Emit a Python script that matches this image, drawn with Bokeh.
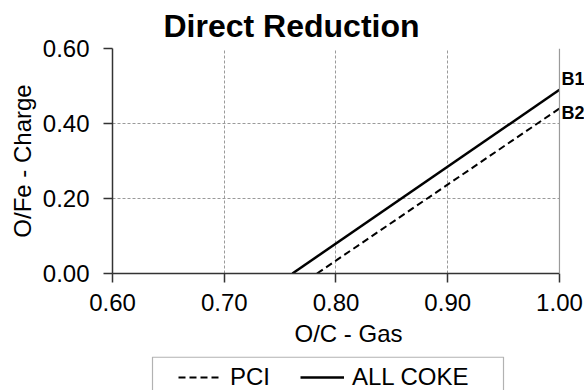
from bokeh.plotting import figure
from bokeh.layouts import column
from bokeh.models import (Range1d, FixedTicker, NumeralTickFormatter, Legend, LegendItem,
                          Span, Label, BoxAnnotation)
from bokeh.embed import file_html
from bokeh.resources import INLINE

# Data
title_text = "Direct Reduction"
x_label = "O/C - Gas"
y_label = "O/Fe - Charge"
x_ticks = [0.60, 0.70, 0.80, 0.90, 1.00]
y_ticks = [0.00, 0.20, 0.40, 0.60]
pci_x = [0.783, 1.00]
pci_y = [0.00, 0.44]
coke_x = [0.761, 1.00]
coke_y = [0.00, 0.49]
series_names = ["PCI", "ALL COKE"]
end_labels = ["B1", "B2"]

FONT = "Liberation Sans"
X_END_PAD = 0.0224  # extra room right of the axis for the end labels
W, H_MAIN, H_LEG = 584, 356, 34
LEFT = 112

p = figure(width=W, height=H_MAIN, output_backend="svg", toolbar_location=None,
           x_range=Range1d(x_ticks[0], x_ticks[-1] + X_END_PAD),
           y_range=Range1d(y_ticks[0], y_ticks[-1]),
           min_border_left=LEFT, min_border_right=0, min_border_top=48,
           min_border_bottom=83)
p.outline_line_color = None
p.background_fill_color = "white"
p.border_fill_color = "white"

p.title.text = title_text
p.title.text_font = FONT
p.title.text_font_size = "32px"
p.title.text_font_style = "bold"
p.title.text_color = "black"
p.title.align = "left"
p.title.offset = 51

for ax in (p.xaxis[0], p.yaxis[0]):
    ax.axis_line_color = "#333333"
    ax.axis_line_width = 1.5
    ax.major_tick_line_color = "#333333"
    ax.major_tick_line_width = 1.5
    ax.major_tick_in = 0
    ax.major_tick_out = 9
    ax.minor_tick_line_color = None
    ax.major_label_text_font = FONT
    ax.major_label_text_font_size = "24px"
    ax.major_label_text_color = "black"
    ax.axis_label_text_font = FONT
    ax.axis_label_text_font_size = "24px"
    ax.axis_label_text_font_style = "normal"
    ax.axis_label_text_color = "black"
    ax.formatter = NumeralTickFormatter(format="0.00")

p.xaxis[0].ticker = FixedTicker(ticks=x_ticks)
p.xaxis[0].bounds = (x_ticks[0], x_ticks[-1])
p.yaxis[0].ticker = FixedTicker(ticks=y_ticks)
p.xaxis[0].axis_label = x_label
p.yaxis[0].axis_label = y_label
p.xaxis[0].major_label_standoff = 11
p.yaxis[0].major_label_standoff = 14
p.xaxis[0].axis_label_standoff = 6
p.yaxis[0].axis_label_standoff = 4

for g in (p.xgrid[0], p.ygrid[0]):
    g.grid_line_color = "#9a9a9a"
    g.grid_line_dash = "3 2"
    g.grid_line_width = 1
p.xgrid[0].ticker = FixedTicker(ticks=x_ticks)
p.ygrid[0].ticker = FixedTicker(ticks=y_ticks)

# blank the strip right of the plot area, then draw its right border
p.add_layout(BoxAnnotation(left=x_ticks[-1], fill_color="white", fill_alpha=1,
                           line_color=None))
p.add_layout(Span(location=x_ticks[-1], dimension="height",
                  line_color="#9a9a9a", line_width=1.2))

p.line(pci_x, pci_y, line_color="black", line_width=2, line_dash="7 4")
p.line(coke_x, coke_y, line_color="black", line_width=2.5)

p.add_layout(Label(x=coke_x[-1], y=coke_y[-1], text=end_labels[0], x_offset=2, y_offset=11,
                   text_baseline="middle", text_font=FONT, text_font_size="18px",
                   text_font_style="bold", text_color="black"))
p.add_layout(Label(x=pci_x[-1], y=pci_y[-1], text=end_labels[1], x_offset=2, y_offset=-4,
                   text_baseline="middle", text_font=FONT, text_font_size="18px",
                   text_font_style="bold", text_color="black"))

# legend strip below the chart; its frame is aligned with the chart's frame,
# so its ranges are set in page pixels
q = figure(width=W, height=H_LEG, output_backend="svg", toolbar_location=None,
           x_range=Range1d(LEFT, W), y_range=Range1d(0, H_LEG),
           x_axis_type=None, y_axis_type=None,
           min_border_left=LEFT, min_border_right=0, min_border_top=0, min_border_bottom=0)
q.outline_line_color = None
q.xgrid.visible = False
q.ygrid.visible = False
q.background_fill_color = "white"
q.border_fill_color = "white"

l_pci = q.line(pci_x, pci_y, line_color="black", line_width=2, line_dash="7 4", visible=False)
l_coke = q.line(coke_x, coke_y, line_color="black", line_width=2.5, visible=False)

q.add_layout(BoxAnnotation(left=152, right=503, top=H_LEG - 0.6, bottom=-20,
                           fill_alpha=0, line_color="black", line_width=1.2))

legend = Legend(items=[LegendItem(label=series_names[0], renderers=[l_pci]),
                       LegendItem(label=series_names[1], renderers=[l_coke])],
                orientation="horizontal", location=(178 - LEFT, -1))
legend.label_text_font = FONT
legend.label_text_font_size = "24px"
legend.label_text_color = "black"
legend.label_height = 24
legend.glyph_height = 24
legend.glyph_width = 44
legend.label_standoff = 8
legend.spacing = 30
legend.padding = 7
legend.margin = 0
legend.border_line_color = None
legend.background_fill_alpha = 0
q.add_layout(legend, "center")

layout = column(p, q, spacing=0)
open("out.html", "w").write(file_html(layout, INLINE))
